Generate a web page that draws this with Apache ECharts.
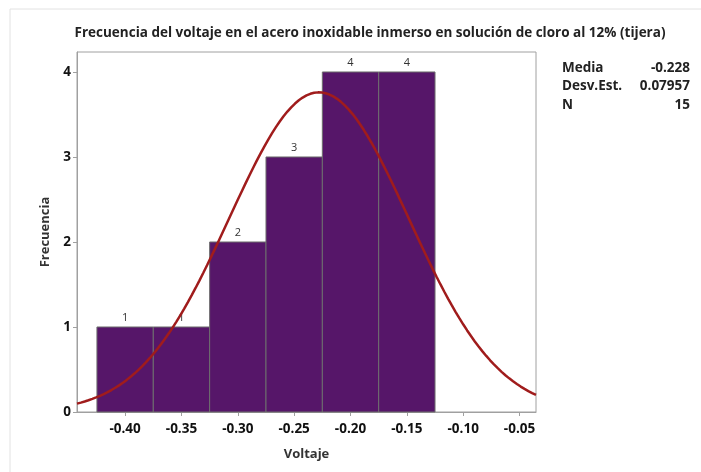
<!DOCTYPE html>
<html lang="es">
  <head>
    <meta charset="UTF-8">
    <title>Frecuencia del voltaje</title>
    <script src="https://cdn.jsdelivr.net/npm/echarts@6/dist/echarts.min.js"></script>
    <style>
      html, body { margin: 0; padding: 0; background: #fff; }
    </style>
  </head>
  <body>
    <div id="main" style="width: 701px;height:472px;"></div>
    <script type="text/javascript">
      // intervalos del histograma (limite inferior) y frecuencias
      var binStarts = [-0.425, -0.375, -0.325, -0.275, -0.225, -0.175];
      var binWidth = 0.05;
      var frecuencias = [1, 1, 2, 3, 4, 4];

      // estadisticos del ajuste normal
      var media = -0.228;
      var desvEst = 0.07957;
      var n = 15;

      var xMin = -0.4427, xMax = -0.0354;
      var yTicks = [0, 1, 2, 3, 4];

      var bins = binStarts.map(function (s, i) {
        return [s, s + binWidth, frecuencias[i]];
      });

      // curva normal ajustada, escalada a frecuencia (n * ancho * densidad)
      var curva = [];
      for (var i = 0; i <= 120; i++) {
        var x = xMin + (xMax - xMin) * i / 120;
        var z = (x - media) / desvEst;
        var y = n * binWidth * Math.exp(-0.5 * z * z) / (desvEst * Math.sqrt(2 * Math.PI));
        curva.push([x, y]);
      }

      var myChart = echarts.init(document.getElementById('main'));
      var boldFont = '"Open Sans", "Noto Sans", sans-serif';

      var option = {
        backgroundColor: '#fff',
        animation: false,
        title: {
          text: 'Frecuencia del voltaje en el acero inoxidable inmerso en solución de cloro al 12% (tijera)',
          left: 365,
          textAlign: 'center',
          top: 21,
          textStyle: { fontSize: 13.5, fontWeight: 'bold', color: '#222', fontFamily: boldFont }
        },
        grid: {
          left: 77, right: 165, top: 52, bottom: 60,
          show: true, borderColor: '#a0a0a0', borderWidth: 1
        },
        xAxis: {
          type: 'value',
          min: xMin, max: xMax,
          splitNumber: 8,
          name: 'Voltaje',
          nameLocation: 'middle',
          nameGap: 36,
          nameTextStyle: { fontSize: 13, fontWeight: 'bold', color: '#333', fontFamily: boldFont },
          axisLine: { show: true, lineStyle: { color: '#a0a0a0' } },
          axisTick: { show: true, length: 4, lineStyle: { color: '#a0a0a0' } },
          axisLabel: {
            fontSize: 13.5, fontWeight: 'bold', color: '#111', fontFamily: boldFont,
            showMinLabel: false, showMaxLabel: false, margin: 10,
            formatter: function (v) { return v.toFixed(2); }
          },
          splitLine: { show: false }
        },
        yAxis: {
          type: 'value',
          min: 0, max: 4.235, interval: 1,
          name: 'Frecuencia',
          nameLocation: 'middle',
          nameGap: 25,
          nameTextStyle: { fontSize: 13, fontWeight: 'bold', color: '#333', fontFamily: boldFont },
          axisLine: { show: true, lineStyle: { color: '#a0a0a0' } },
          axisTick: { show: true, length: 4, lineStyle: { color: '#a0a0a0' } },
          axisLabel: {
            fontSize: 13.5, fontWeight: 'bold', color: '#111', fontFamily: boldFont,
            showMaxLabel: false, margin: 6,
            formatter: function (v) { return yTicks.indexOf(v) >= 0 ? String(v) : ''; }
          },
          splitLine: { show: false }
        },
        series: [
          {
            type: 'custom',
            data: bins,
            renderItem: function (params, api) {
              var p0 = api.coord([api.value(0), api.value(2)]);
              var p1 = api.coord([api.value(1), 0]);
              return {
                type: 'rect',
                shape: { x: p0[0], y: p0[1], width: p1[0] - p0[0], height: p1[1] - p0[1] },
                style: { fill: '#561669', stroke: '#6e6e6e', lineWidth: 1 },
                textContent: {
                  style: { text: String(api.value(2)), fontSize: 11, fill: '#333', fontFamily: boldFont }
                },
                textConfig: { position: 'top', distance: 3 }
              };
            },
            encode: { x: [0, 1], y: 2 },
            z: 2
          },
          {
            type: 'line',
            data: curva,
            showSymbol: false,
            clip: true,
            lineStyle: { color: '#a01c1c', width: 2.5 },
            z: 3
          }
        ],
        graphic: [
          { type: 'rect', shape: { x: 10, y: 9, width: 720, height: 500 }, style: { fill: 'none', stroke: '#e2e2e2', lineWidth: 1 }, z: -1 },
          { type: 'text', left: 562, top: 61, style: { text: 'Media', fontSize: 13.5, fontWeight: 'bold', fill: '#222', fontFamily: boldFont } },
          { type: 'text', right: 11, top: 61, style: { text: String(media), fontSize: 13.5, fontWeight: 'bold', fill: '#222', fontFamily: boldFont } },
          { type: 'text', left: 562, top: 79, style: { text: 'Desv.Est.', fontSize: 13.5, fontWeight: 'bold', fill: '#222', fontFamily: boldFont } },
          { type: 'text', right: 11, top: 79, style: { text: String(desvEst), fontSize: 13.5, fontWeight: 'bold', fill: '#222', fontFamily: boldFont } },
          { type: 'text', left: 562, top: 98, style: { text: 'N', fontSize: 13.5, fontWeight: 'bold', fill: '#222', fontFamily: boldFont } },
          { type: 'text', right: 11, top: 98, style: { text: String(n), fontSize: 13.5, fontWeight: 'bold', fill: '#222', fontFamily: boldFont } }
        ]
      };

      myChart.setOption(option);
    </script>
  </body>
</html>
